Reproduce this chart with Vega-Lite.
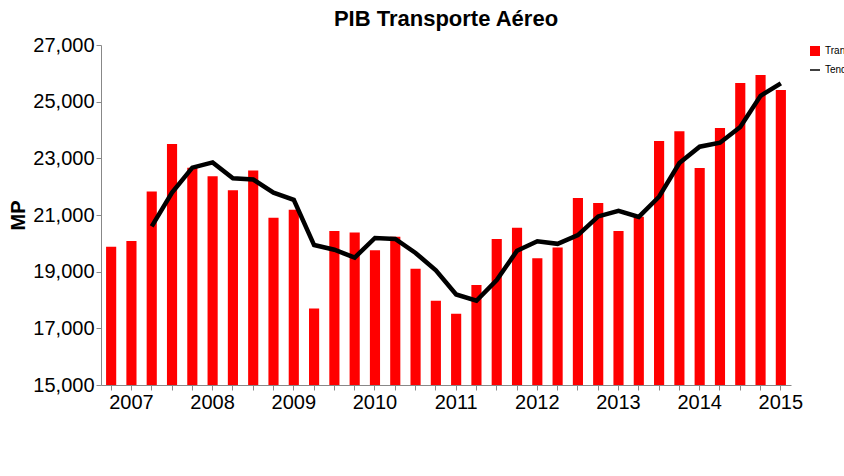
{
  "$schema": "https://vega.github.io/schema/vega-lite/v6.json",
  "padding": {"left": 8, "top": 8, "right": 15, "bottom": 5},
  "width": 690,
  "height": 340,
  "background": "white",
  "title": {"text": "PIB Transporte Aéreo", "fontSize": 22, "fontWeight": "bold", "color": "black"},
  "data": {"values": [
    {"q": "2007Q1", "value": 19883, "trend": null},
    {"q": "2007Q2", "value": 20081, "trend": null},
    {"q": "2007Q3", "value": 21833, "trend": 20600},
    {"q": "2007Q4", "value": 23509, "trend": 21790},
    {"q": "2008Q1", "value": 22670, "trend": 22670},
    {"q": "2008Q2", "value": 22372, "trend": 22858},
    {"q": "2008Q3", "value": 21876, "trend": 22296},
    {"q": "2008Q4", "value": 22570, "trend": 22253},
    {"q": "2009Q1", "value": 20907, "trend": 21790},
    {"q": "2009Q2", "value": 21182, "trend": 21535},
    {"q": "2009Q3", "value": 17700, "trend": 19939},
    {"q": "2009Q4", "value": 20435, "trend": 19773},
    {"q": "2010Q1", "value": 20378, "trend": 19496},
    {"q": "2010Q2", "value": 19760, "trend": 20190},
    {"q": "2010Q3", "value": 20236, "trend": 20157},
    {"q": "2010Q4", "value": 19099, "trend": 19661},
    {"q": "2011Q1", "value": 17975, "trend": 19050},
    {"q": "2011Q2", "value": 17512, "trend": 18196},
    {"q": "2011Q3", "value": 18527, "trend": 17975},
    {"q": "2011Q4", "value": 20157, "trend": 18702},
    {"q": "2012Q1", "value": 20554, "trend": 19740},
    {"q": "2012Q2", "value": 19476, "trend": 20071},
    {"q": "2012Q3", "value": 19850, "trend": 19982},
    {"q": "2012Q4", "value": 21602, "trend": 20289},
    {"q": "2013Q1", "value": 21426, "trend": 20950},
    {"q": "2013Q2", "value": 20435, "trend": 21149},
    {"q": "2013Q3", "value": 20940, "trend": 20931},
    {"q": "2013Q4", "value": 23608, "trend": 21645},
    {"q": "2014Q1", "value": 23959, "trend": 22835},
    {"q": "2014Q2", "value": 22659, "trend": 23410},
    {"q": "2014Q3", "value": 24071, "trend": 23552},
    {"q": "2014Q4", "value": 25657, "trend": 24104},
    {"q": "2015Q1", "value": 25942, "trend": 25205},
    {"q": "2015Q2", "value": 25413, "trend": 25645}
  ]},
  "config": {"view": {"stroke": null}},
  "layer": [
    {
      "mark": {"type": "bar", "color": "#FF0000", "clip": true},
      "encoding": {
        "x": {"field": "q", "type": "ordinal", "sort": null,
          "scale": {"paddingInner": 0.5, "paddingOuter": 0.25},
          "axis": {"title": null, "labelAngle": 0, "labelFontSize": 20, "grid": false, "labelOverlap": false,
            "labelExpr": "indexof(datum.value, 'Q2') > 0 ? slice(datum.value, 0, 4) : ''"}},
        "y": {"field": "value", "type": "quantitative",
          "scale": {"domain": [15000, 27000], "nice": false, "zero": false},
          "axis": {"title": "MP", "values": [15000, 17000, 19000, 21000, 23000, 25000, 27000], "format": ",d", "grid": false, "labelFontSize": 20, "titleFontSize": 20}},
        "fill": {"datum": "Transporte aéreo", "type": "nominal", "scale": {"range": ["#FF0000"]}}
      }
    },
    {
      "mark": {"type": "line", "strokeWidth": 4.5, "color": "black"},
      "encoding": {
        "x": {"field": "q", "type": "ordinal", "sort": null},
        "y": {"field": "trend", "type": "quantitative"},
        "stroke": {"datum": "Tendencia", "type": "nominal", "scale": {"range": ["black"]}}
      }
    }
  ]
}
